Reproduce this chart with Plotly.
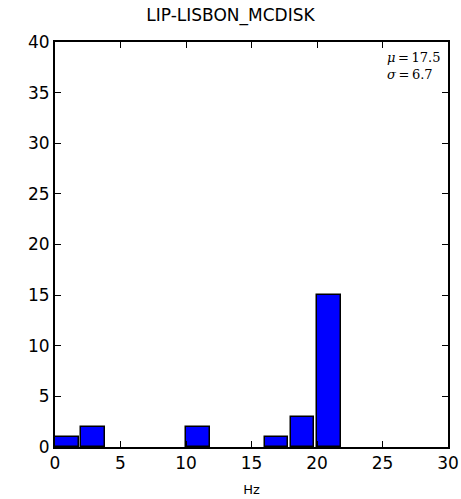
import plotly.graph_objects as go

bin_starts = [0, 2, 10, 16, 18, 20]
counts = [1, 2, 2, 1, 3, 15]
bar_width = 1.8
title = "LIP-LISBON_MCDISK"
x_label = "Hz"
mu, sigma = 17.5, 6.7

fig = go.Figure()
fig.add_trace(go.Bar(
    x=bin_starts, y=counts, width=[bar_width] * len(counts), offset=0,
    marker=dict(color="#0000ff", line=dict(color="black", width=1.5)),
))

axis_common = dict(
    showline=True, linewidth=2, linecolor="black", mirror="allticks",
    ticks="inside", ticklen=6, tickwidth=1, tickcolor="black",
    showgrid=False, zeroline=False, automargin=False,
    tickfont=dict(family="DejaVu Sans", size=17, color="black"),
)
fig.update_xaxes(range=[0, 30], tick0=0, dtick=5, **axis_common,
                 title=dict(text=x_label, font=dict(family="DejaVu Sans", size=13, color="black"), standoff=12))
fig.update_yaxes(range=[0, 40], tick0=0, dtick=5, **axis_common)

fig.add_annotation(
    x=0.985, y=0.985, xref="paper", yref="paper", xanchor="right", yanchor="top",
    text=f"<i>μ</i>\u2009=\u2009{mu}<br><i>σ</i>\u2009=\u2009{sigma}",
    showarrow=False, align="left",
    font=dict(family="DejaVu Serif", size=13, color="black"),
)

fig.update_layout(
    width=461, height=499,
    margin=dict(l=55, r=13, t=42, b=52),
    paper_bgcolor="white", plot_bgcolor="white",
    title=dict(text=title, x=0.5, xanchor="center", y=0.97, yanchor="middle",
               font=dict(family="DejaVu Sans", size=17, color="black")),
    showlegend=False,
    bargap=0,
)
fig.write_html("out.html")
